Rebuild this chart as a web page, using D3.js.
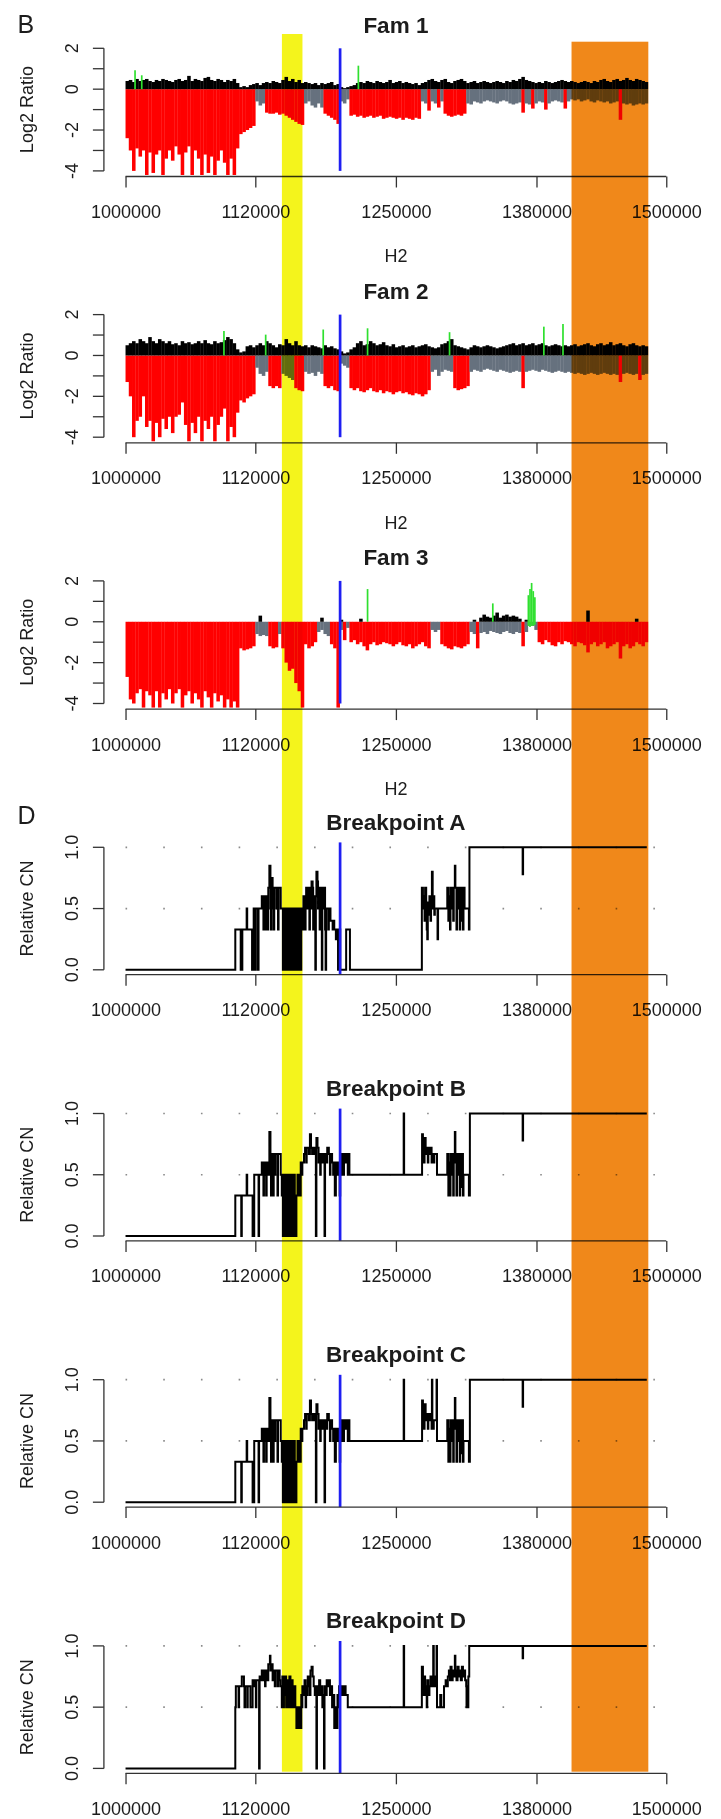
<!DOCTYPE html>
<html><head><meta charset="utf-8">
<script src="https://cdn.jsdelivr.net/npm/d3@7"></script>
<style>
body{margin:0;background:#fff}
svg{display:block}
text{font-family:"Liberation Sans",Arial,Helvetica,sans-serif;fill:#1c1c1c}
</style>
</head><body>
<svg id="chart" width="721" height="1819"></svg>
<script>
// ---------------- DATA ----------------
const xTicks = [1000000, 1120000, 1250000, 1380000, 1500000];
const famYTicks = [2, 1, 0, -1, -2, -3, -4];
const famYLabels = [2, 0, -2, -4];
const bpYTicks = [0, 0.5, 1];
const famTitles = ["Fam 1", "Fam 2", "Fam 3"];
const bpTitles = ["Breakpoint A", "Breakpoint B", "Breakpoint C", "Breakpoint D"];
const xLabel = "H2";

// probes binned every 3 kb starting at 1000 kb (log2 ratio envelope per bin)
const binStartKb = 1000, binKb = 3;

const fam1Lower = [
-2.4,-3.0,-4.0,-2.9,-3.3,-3.0,-4.2,-3.1,-4.1,-3.2,-3.0,-4.2,-3.4,-3.0,-3.5,-2.8,-3.2,-4.2,-3.1,-2.8,
-4.2,-3.0,-3.4,-4.2,-3.2,-4.1,-3.3,-4.2,-3.5,-3.0,-3.6,-4.2,-3.4,-4.2,-2.9,
-2.2,-2.1,-2.0,-1.9,-1.8,
-0.6,-0.8,-0.7,
-1.15,-1.2,-1.2,-1.15,-1.25,
-1.2,-1.3,-1.4,-1.5,-1.6,-1.7,-1.75,
-0.7,-0.6,-0.8,-0.9,-0.7,-0.9,
-1.2,-1.3,-1.4,-1.5,-1.7,
-0.6,-0.7,-0.5,
-1.3,-1.25,-1.35,-1.3,-1.4,-1.35,-1.3,-1.4,-1.35,-1.3,-1.45,-1.4,-1.35,-1.4,-1.45,-1.4,-1.5,-1.4,-1.45,-1.5,-1.4,-1.45,
-0.6,-0.7,-1.05,-0.6,-0.7,-0.9,-0.6,
-1.2,-1.3,-1.35,-1.3,-1.25,-1.3,-1.2,
-0.7,-0.75,-0.6,-0.65,-0.7,-0.6,-0.55,-0.6,-0.65,-0.7,-0.6,-0.55,-0.6,-0.7,-0.75,-0.7,-0.65,-1.15,-0.7,-0.75,
-0.95,-0.7,-0.6,-0.65,-1.0,-0.7,-0.6,-0.55,-0.6,-0.65,-0.95,-0.6,-0.5,-0.55,-0.5,-0.6,-0.55,-0.5,-0.6,-0.65,
-0.55,-0.6,-0.65,-0.6,-0.7,-0.65,-0.6,-1.5,-0.7,-0.75,-0.7,-0.8,-0.75,-0.7,-0.75,-0.7
];
const fam1Upper = [
.4,.45,.35,.5,.4,.45,.5,.4,.35,.45,.4,.5,.45,.4,.35,.45,.5,.4,.45,.65,.4,.5,.45,.4,.55,.6,.45,.4,.5,.45,.35,.45,.4,.5,.3,
.1,.15,.1,.2,
.25,.3,.2,.3,.35,.3,.4,.35,.3,.45,
.6,.4,.5,.35,.45,.3,.35,
.3,.25,.3,.2,.3,.25,.3,.35,.2,.25,
.1,.05,.1,.15,.2,
.3,.35,.3,.4,.35,.3,.4,.35,.3,.35,.45,.3,.35,.4,.3,.35,.3,.25,.3,.2,
.3,.35,.45,.5,.4,.35,.45,.5,.35,.3,.4,.45,.5,.4,.3,.35,.4,.3,.35,.4,
.35,.3,.35,.4,.35,.3,.4,.35,.45,.4,.5,.6,.45,.4,.35,.3,.35,.3,.4,.35,
.3,.35,.4,.45,.4,.35,.4,.35,.3,.35,.4,.35,.3,.4,.35,.45,.5,.4,.35,.45,
.5,.4,.45,.55,.45,.4,.5,.45,.4,.35
];
const fam1RedRuns = [[1000,1120],[1129,1165],[1183,1198],[1207,1273],[1279,1282],[1288,1291],[1294,1315],[1366,1369],[1375,1378],[1387,1390],[1405,1408],[1456,1459]];
const fam1Green = [[1008.8,0.92,0],[1015,0.68,0],[1215.3,1.15,0]];

const fam2Lower = [
-1.3,-2.0,-4.0,-3.2,-3.0,-2.0,-3.5,-3.2,-4.2,-3.3,-4.0,-3.1,-3.6,-3.0,-3.8,-3.0,-2.9,-2.3,-3.4,-4.2,
-3.3,-3.8,-3.0,-4.2,-3.2,-3.6,-3.0,-4.2,-3.4,-3.0,-2.6,-4.2,-3.5,-4.0,-2.8,
-2.2,-2.3,-2.1,-2.0,-1.9,
-0.6,-0.9,-1.0,-0.8,
-1.5,-1.6,-1.5,-1.6,
-0.9,-1.0,-1.1,-1.2,
-1.6,-1.7,-1.75,
-0.8,-0.9,-0.85,-1.0,-0.8,-0.9,
-1.5,-1.6,-1.5,-1.7,-1.75,
-0.4,-0.5,-0.6,
-1.6,-1.7,-1.6,-1.75,-1.8,-1.7,-1.6,-1.75,-1.8,-1.7,-1.85,-1.75,-1.8,-1.9,-1.8,-1.75,-1.85,-1.8,-1.9,-1.95,-1.85,-1.9,-2.0,-1.9,-1.7,
-0.8,-0.7,-1.0,-0.8,-0.7,-0.75,-0.8,
-1.6,-1.7,-1.65,-1.6,-1.5,
-0.8,-0.7,-0.75,-0.8,-0.7,-0.65,-0.7,-0.75,-0.8,-0.7,-0.75,-0.8,-0.85,-0.8,-0.75,-0.8,-1.6,-0.8,-0.75,-0.7,
-0.75,-0.8,-0.7,-0.75,-0.8,-0.85,-0.8,-0.75,-0.8,-0.85,-0.8,-0.85,-0.9,-0.85,-0.9,-0.95,-0.9,-0.85,-0.9,-0.95,
-0.9,-0.85,-0.9,-0.95,-0.9,-0.95,-1.3,-0.9,-0.85,-0.9,-0.95,-0.9,-1.2,-0.95,-0.9
];
const fam2Upper = [
.5,.6,.7,.6,.8,.7,.6,.9,.7,.6,.8,.7,.6,.7,.55,.6,.5,.7,.6,.65,.55,.6,.7,.6,.75,.6,.55,.7,.6,.65,.75,.9,.8,.6,.3,
.15,.2,.45,.5,.4,
.5,.6,.5,.7,.6,.5,.4,.55,.5,
.8,.6,.5,.7,.5,.45,.5,
.4,.5,.45,.4,.35,.5,.4,.45,.35,.3,.2,
.1,.15,.3,.4,
.6,.7,.5,.55,.7,.6,.5,.55,.65,.5,.45,.55,.4,.45,.5,.4,.45,.5,.4,.45,
.5,.55,.45,.4,.35,.4,.55,.6,.7,.8,.5,.45,.4,.35,.3,.4,.5,.45,.4,.45,
.5,.45,.4,.35,.4,.45,.5,.55,.6,.5,.55,.6,.5,.55,.6,.5,.55,.6,.5,.45,
.5,.55,.5,.45,.5,.45,.5,.55,.45,.5,.55,.6,.5,.45,.55,.6,.5,.55,.65,.5,
.55,.6,.5,.45,.55,.6,.5,.45,.5,.45
];
const fam2RedRuns = [[1000,1120],[1132,1144],[1156,1165],[1183,1198],[1207,1282],[1303,1318],[1366,1369],[1456,1459],[1474,1477]];
const fam2Green = [[1091,1.2,0],[1129.6,1.02,0],[1182.8,1.27,0],[1223.8,1.33,0],[1299.6,1.14,0],[1386.8,1.41,0],[1404.5,1.54,0]];

const fam3Lower = [
-2.7,-3.8,-4.0,-3.5,-3.3,-4.2,-3.4,-3.6,-4.2,-3.4,-4.2,-3.5,-3.8,-3.3,-4.0,-3.5,-3.3,-4.2,-3.6,-3.4,
-4.0,-3.5,-3.8,-4.2,-3.4,-3.7,-4.2,-3.5,-3.9,-3.6,-4.2,-3.8,-4.2,-3.9,-4.2,
-1.3,-1.4,-1.35,-1.3,-1.2,
-0.6,-0.7,-0.65,-0.7,
-1.2,-1.3,-1.25,
-0.6,
-1.3,-2.0,-2.4,-2.3,-3.0,-3.4,-4.2,
-1.1,-1.3,-1.2,-1.0,
-0.5,-0.4,-0.6,-0.7,
-1.1,-1.3,-4.2,
-0.4,-0.9,-0.3,
-1.0,-0.9,-1.1,-1.0,-1.2,-1.4,-1.1,-1.0,-1.15,-1.1,-1.0,-1.05,-1.1,-1.2,-1.1,-1.0,-1.15,-1.2,-1.1,-1.3,-1.2,-1.1,-1.0,-1.2,-1.3,
-0.4,-0.5,-0.4,
-1.1,-1.2,-1.3,-1.35,-1.2,-1.25,-1.3,-1.2,-1.1,
-0.5,-0.6,-1.3,-0.55,-0.5,-0.6,-0.45,-0.5,-0.55,-0.6,-0.5,-0.45,-0.55,-0.6,-0.5,-0.55,-1.2,-0.5,-0.2,-0.2,-0.4,
-1.0,-1.1,-0.9,-1.0,-1.15,-1.2,-1.0,-1.1,-0.95,-1.0,-1.1,-1.2,-1.0,-1.05,-1.15,-1.5,-1.1,-1.0,-1.2,-1.1,
-1.0,-1.3,-1.2,-1.1,-1.0,-1.8,-1.2,-1.1,-1.3,-1.2,-1.0,-1.1,-1.2,-1.0
];
const fam3Upper = [
0,0,0,0,0,0,0,0,0,0,0,0,0,0,0,0,0,0,0,0,0,0,0,0,0,0,0,0,0,0,0,0,0,0,0,0,0,0,0,0,0,
.3,
0,0,0,0,0,0,0,0,0,0,0,0,0,0,0,0,0,0,
.2,
0,0,0,0,0,
.1,
0,0,0,0,0,
.15,
0,0,0,0,0,0,0,0,0,0,0,0,0,0,0,0,0,0,0,0,0,0,0,0,0,0,0,0,0,0,0,0,0,0,
.1,0,.2,.35,.25,.2,.3,.45,.2,.3,.35,.25,.3,.25,.15,0,.1,
0,0,0,0,0,0,0,0,0,0,0,0,0,0,0,0,0,0,
.55,
0,0,0,0,0,0,0,0,0,0,0,0,0,0,
.15,
0,0,0
];
const fam3RedRuns = [[1000,1120],[1132,1141],[1144,1177],[1189,1198],[1201,1204],[1207,1282],[1291,1318],[1324,1327],[1366,1369],[1381,1484]];
const fam3Green = [[1223.8,1.6,0],[1339.6,0.9,0],[1372.5,1.3,-0.2],[1374,1.6,-0.25],[1375.5,1.9,-0.2],[1377,1.5,-0.2],[1378.5,1.2,-0.15]];

// relative copy number, step series [kb, value]
const bpA = [
[1000,0],[1101,0],[1101.5,0.33],[1106,0.33],[1106.5,0],[1107.5,0],[1108,0.33],[1111.5,0.33],[1112,0.5],[1112.5,0.33],[1116.5,0.33],[1117,0],[1118,0],[1118.5,0.5],[1119.5,0],[1120.5,0.5],[1122,0.5],[1122.5,0],[1123,0.5],[1125.5,0.5],[1126,0.6],[1127,0.6],[1127.5,0.33],[1128,0.6],[1129,0.5],[1129.5,0.33],[1130,0.6],[1131,0.5],[1131.5,0.33],[1132,0.67],[1133,0.85],[1134,0.5],[1134.5,0.33],[1135,0.75],[1136,0.5],[1136.5,0.67],[1137,0.33],[1137.5,0.67],[1139,0.67],[1139.5,0.5],[1140,0.67],[1141,0.33],[1141.5,0.67],[1143,0.67],[1143.5,0.5],[1145,0.5],[1145.5,0],
[1146,0.5],[1146.5,0],[1147,0.5],[1147.5,0],[1148,0.33],[1148.5,0],[1149,0.5],[1149.5,0],[1150,0.5],[1150.5,0],[1151,0.33],[1151.5,0],[1152,0.5],[1152.5,0],[1153,0.5],[1153.5,0],[1154,0.5],[1154.5,0.33],[1155,0],[1155.5,0.5],[1156,0],[1156.5,0.4],[1157,0],[1157.5,0.5],[1158,0],[1158.5,0.33],[1159,0],[1159.5,0.5],[1160,0],[1160.5,0.33],[1161,0],[1161.5,0.5],[1162,0],[1162.5,0.4],[1163,0.33],
[1163.5,0.5],[1164,0.33],[1164.5,0.6],[1165,0.4],[1165.5,0.5],[1166,0.33],[1166.5,0.6],[1167,0.67],[1168,0.5],[1168.5,0.67],[1169.5,0.67],[1170,0.33],[1170.5,0.67],[1171.5,0.5],[1172,0.72],[1173,0.67],[1173.5,0.33],[1174,0.6],[1175.5,0],[1176,0.6],[1176.5,0.8],[1177.5,0.72],[1178,0.5],[1178.5,0.67],[1179.5,0.33],[1180,0.67],[1181.5,0],[1182,0.67],[1183,0.5],[1183.5,0.67],[1184.5,0.33],[1185,0],[1185.5,0.5],[1187,0.5],[1187.5,0.33],[1188,0.5],[1189.5,0.4],[1191.5,0.33],[1192,0.4],[1193,0.33],[1194.5,0.25],[1195,0.33],[1196.5,0],[1197,0.3],[1197.5,0],[1198,0.33],[1198.5,0],[1203.5,0],[1204,0.33],[1207,0.33],[1207.5,0],
[1273.5,0],[1274,0.67],[1275,0.5],[1275.5,0.6],[1276.5,0.4],[1277,0.67],[1278,0.5],[1278.5,0.33],[1279,0.25],[1279.5,0.55],[1280.5,0.45],[1281,0.6],[1282,0.4],[1282.5,0.6],[1283.3,0.8],[1284,0.5],[1284.5,0.6],[1285.5,0.45],[1286,0.5],[1288.5,0.25],[1289,0.5],[1297,0.5],[1297.5,0.67],[1298.5,0.4],[1299,0.6],[1300,0.33],[1300.5,0.67],[1301.5,0.5],[1302,0.67],[1303,0.4],[1303.5,0.67],[1304.5,0.85],[1305,0.67],[1306,0.33],[1306.5,0.67],[1307.5,0.5],[1308,0.67],[1309,0.33],[1309.5,0.67],[1310.5,0.4],[1311,0.67],[1312,0.33],[1312.5,0.67],[1313.5,0.5],[1317,0.5],[1317.5,0.33],[1318,1.0],[1367,1.0],[1367.2,0.78],[1367.6,1.0],[1482,1.0]
];
const bpB = [
[1000,0],[1101,0],[1101.5,0.33],[1106.5,0.33],[1107,0],[1107.5,0.33],[1111.5,0.33],[1112,0.5],[1112.5,0.33],[1117,0.33],[1117.5,0],[1118.5,0],[1119,0.5],[1122.5,0.5],[1123,0],[1123.5,0.5],[1125.5,0.5],[1126,0.6],[1127,0.6],[1127.5,0.33],[1128,0.6],[1129.5,0.5],[1130,0.33],[1130.5,0.6],[1132,0.5],[1133,0.85],[1134,0.5],[1134.5,0.33],[1135,0.67],[1136,0.5],[1136.5,0.33],[1137,0.67],[1138,0.5],[1138.5,0.67],[1140,0.67],[1140.5,0.33],[1141,0.67],[1143,0.67],[1143.5,0.5],[1144.5,0.33],[1145,0.5],
[1145.5,0],[1146,0.5],[1146.5,0],[1147,0.5],[1147.5,0],[1148,0.5],[1148.5,0],[1149,0.5],[1149.5,0],[1150,0.4],[1150.5,0],[1151,0.5],[1151.5,0],[1152,0.5],[1152.5,0],[1153,0.5],[1153.5,0],[1154,0.33],[1154.5,0],[1155,0.5],[1155.5,0],[1156,0.5],[1156.5,0],[1157,0.33],[1157.5,0],[1158,0.33],
[1159,0.5],[1159.5,0.33],[1160.5,0.5],[1161,0.33],[1162,0.6],[1163,0.5],[1163.5,0.6],[1165,0.67],[1166,0.72],[1167,0.6],[1167.5,0.72],[1169.5,0.67],[1170.5,0.83],[1171.5,0.72],[1172.5,0.67],[1173.5,0.72],[1175,0.67],[1176,0],[1176.5,0.8],[1177.5,0.72],[1178.5,0.6],[1179,0.67],[1180,0.5],[1180.5,0.67],[1182,0.6],[1182.5,0.67],[1184,0],[1184.5,0.67],[1186,0.6],[1186.5,0.72],[1188,0.67],[1189,0.5],[1189.5,0.67],[1191,0.6],[1192,0.5],[1193,0.6],[1193.5,0.33],[1194.5,0.5],[1195,0.6],[1196,0.5],[1197,0.6],[1198,0.33],[1198.5,0.6],[1199.5,0.5],[1200,0.67],[1201.5,0.5],[1202,0.67],[1203.5,0.6],[1204,0.67],[1205.5,0.5],[1206,0.67],[1207,0.5],
[1257,0.5],[1257.2,1.0],[1257.6,0.5],[1274,0.5],[1274.2,0.83],[1275,0.72],[1276,0.6],[1276.5,0.8],[1277.5,0.67],[1278,0.72],[1279.5,0.6],[1280,0.72],[1281,0.67],[1282,0.72],[1283,0.6],[1283.5,0.67],[1285,0.6],[1285.5,0.67],[1287.5,0.67],[1288,0.5],[1297,0.5],[1297.5,0.67],[1298.5,0.33],[1299,0.6],[1300,0.33],[1300.5,0.67],[1301.5,0.5],[1302,0.67],[1303,0.33],[1303.5,0.6],[1304.5,0.85],[1305,0.67],[1306,0.33],[1306.5,0.67],[1307.5,0.5],[1308,0.67],[1309,0.33],[1309.5,0.67],[1310.5,0.4],[1311,0.67],[1312,0.33],[1312.5,0.5],[1317,0.5],[1317.5,0.33],[1318.4,1.0],[1367,1.0],[1367.2,0.78],[1367.6,1.0],[1482,1.0]
];
const bpC = [
[1000,0],[1101,0],[1101.5,0.33],[1106.5,0.33],[1107,0],[1107.5,0.33],[1111.5,0.33],[1112,0.5],[1112.5,0.33],[1117,0.33],[1117.5,0],[1118.5,0],[1119,0.5],[1122.5,0.5],[1123,0],[1123.5,0.5],[1125.5,0.5],[1126,0.6],[1127,0.6],[1127.5,0.33],[1128,0.6],[1129.5,0.5],[1130,0.33],[1130.5,0.6],[1132,0.5],[1133,0.85],[1134,0.5],[1134.5,0.33],[1135,0.67],[1136,0.5],[1136.5,0.33],[1137,0.67],[1138,0.5],[1138.5,0.67],[1140,0.67],[1140.5,0.33],[1141,0.67],[1143,0.67],[1143.5,0.5],[1144.5,0.33],[1145,0.5],
[1145.5,0],[1146,0.5],[1146.5,0],[1147,0.5],[1147.5,0],[1148,0.5],[1148.5,0],[1149,0.5],[1149.5,0],[1150,0.4],[1150.5,0],[1151,0.5],[1151.5,0],[1152,0.5],[1152.5,0],[1153,0.5],[1153.5,0],[1154,0.33],[1154.5,0],[1155,0.5],[1155.5,0],[1156,0.5],[1156.5,0],[1157,0.33],[1157.5,0],[1158,0.33],
[1159,0.5],[1159.5,0.33],[1160.5,0.5],[1161,0.33],[1162,0.6],[1163,0.5],[1163.5,0.6],[1165,0.67],[1166,0.72],[1167,0.6],[1167.5,0.72],[1169.5,0.67],[1170.5,0.83],[1171.5,0.72],[1172.5,0.67],[1173.5,0.72],[1175,0.67],[1176,0],[1176.5,0.8],[1177.5,0.72],[1178.5,0.6],[1179,0.67],[1180,0.5],[1180.5,0.67],[1182,0.6],[1182.5,0.67],[1184,0],[1184.5,0.67],[1186,0.6],[1186.5,0.72],[1188,0.67],[1189,0.5],[1189.5,0.67],[1191,0.6],[1192,0.5],[1193,0.6],[1193.5,0.33],[1194.5,0.5],[1195,0.6],[1196,0.5],[1197,0.6],[1198,0.33],[1198.5,0.6],[1199.5,0.5],[1200,0.67],[1201.5,0.5],[1202,0.67],[1203.5,0.6],[1204,0.67],[1205.5,0.5],[1206,0.67],[1207,0.5],
[1257,0.5],[1257.2,1.0],[1257.6,0.5],[1274,0.5],[1274.2,0.83],[1275,0.72],[1276,0.6],[1276.5,0.8],[1277.5,0.67],[1278,0.72],[1279.5,0.6],[1280,0.72],[1281,0.67],[1282,0.72],[1283,0.6],[1283.3,1.0],[1283.7,0.6],[1285,0.67],[1287.4,0.67],[1287.6,1.0],[1288,0.5],[1297,0.5],[1297.5,0.67],[1298.5,0.33],[1299,0.6],[1300,0.33],[1300.5,0.67],[1301.5,0.5],[1302,0.67],[1303,0.33],[1303.5,0.6],[1304.5,0.85],[1305,0.67],[1306,0.33],[1306.5,0.67],[1307.5,0.5],[1308,0.67],[1309,0.33],[1309.5,0.67],[1310.5,0.4],[1311,0.67],[1312,0.33],[1312.5,0.5],[1317,0.5],[1317.5,0.33],[1318.4,1.0],[1367,1.0],[1367.2,0.78],[1367.6,1.0],[1482,1.0]
];
const bpD = [
[1000,0],[1101.2,0],[1101.5,0.5],[1102,0.67],[1104,0.67],[1104.5,0.5],[1105,0.67],[1107,0.67],[1107.5,0.75],[1109,0.75],[1109.5,0.67],[1110,0.5],[1110.5,0.67],[1112,0.67],[1112.5,0.5],[1113,0.67],[1115,0.67],[1115.5,0.5],[1117,0.5],[1117.5,0.72],[1118.5,0.72],[1119,0.67],[1119.5,0.72],[1120.5,0.5],[1121,0.72],[1123,0.72],[1123.5,0],[1124,0.75],[1125,0.72],[1126,0.8],[1127,0.72],[1128,0.8],[1129,0.67],[1129.5,0.8],[1131,0.72],[1132,0.85],[1133.5,0.92],[1134,0.8],[1135,0.85],[1136,0.72],[1137,0.8],[1138,0.67],[1138.5,0.8],[1140,0.8],[1140.5,0.67],[1141,0.8],[1142.5,0.72],[1143,0.67],[1144.5,0.5],[1145,0.75],[1146,0.5],[1146.5,0.75],[1147,0.6],[1147.5,0.75],[1148.5,0.5],[1149,0.72],[1150,0.5],[1150.5,0.67],[1151,0.5],[1151.5,0.75],[1152.5,0.6],[1153,0.5],[1153.5,0.72],[1154.5,0.5],[1155,0.6],[1155.5,0.5],[1156,0.67],[1157,0.5],[1158,0.33],[1159,0.5],[1159.5,0.33],[1160.5,0.5],[1161,0.33],[1162.5,0.6],[1163,0.5],[1163.5,0.67],[1165,0.6],[1165.5,0.72],[1166.5,0.5],[1167,0.67],[1168,0.6],[1168.5,0.75],[1169.5,0.67],[1170.5,0.6],[1171,0.8],[1172,0.83],[1173,0.75],[1174,0.67],[1175,0.6],[1175.5,0.67],[1176.5,0],[1177,0.67],[1178,0.6],[1179,0.72],[1180,0.6],[1181,0.67],[1182,0.5],[1183,0.6],[1183.5,0],[1184,0.67],[1185,0.6],[1186,0.72],[1187,0.67],[1188,0.72],[1189,0.6],[1190,0.67],[1191,0.5],[1192,0.6],[1193,0.33],[1194,0.5],[1195,0.33],[1196,0.6],[1197,0.5],[1197.5,0.67],[1199,0.6],[1200,0.67],[1201,0.6],[1202,0.67],[1203.5,0.6],[1205.5,0.5],
[1257,0.5],[1257.2,1.0],[1257.6,0.5],[1273.7,0.5],[1274,0.83],[1275,0.6],[1276,0.75],[1277,0.67],[1277.5,0.6],[1278.5,0.5],[1279,0.72],[1280,0.6],[1281,0.67],[1282,0.75],[1283,0.67],[1284.5,1.0],[1285,0.67],[1286,0.75],[1287,0.67],[1287.6,1.0],[1288,0.5],[1290.5,0.5],[1291,0.6],[1292,0.5],[1294.5,0.67],[1296,0.72],[1297,0.67],[1298,0.75],[1299,0.8],[1300,0.72],[1300.5,0.83],[1301.5,0.72],[1302.5,0.8],[1303.5,0.75],[1304.5,0.92],[1305,0.8],[1306,0.72],[1307,0.83],[1308,0.75],[1309,0.8],[1310,0.72],[1311,0.83],[1312,0.75],[1313,0.8],[1314,0.72],[1315,0.67],[1315.3,0.5],[1317,0.75],[1317.8,1.0],[1367,1.0],[1367.2,0.9],[1367.6,1.0],[1482,1.0]
];

const breakpointKb = 1198.4;            // blue marker
const yellowBandKb = [1144.6, 1163.6];  // highlighted regions
const orangeBandKb = [1412.4, 1483.4];

// ---------------- DRAWING ----------------
const RED = "#ff0000", GREY = "#66717e", BLACK = "#000", GREEN = "#2fe02f", BLUE = "#1f1ff2";
const svg = d3.select("#chart");
svg.append("rect").attr("width", 721).attr("height", 1819).attr("fill", "#fff");
const x = d3.scaleLinear().domain([980000, 1520000]).range([103.9, 687.9]);
const bp = k => k * 1000;
const xMid = (x.range()[0] + x.range()[1]) / 2;

function xAxis(g, axisY, withTitle, titleY) {
  const ax = g.append("g").attr("transform", `translate(0,${axisY})`)
    .call(d3.axisBottom(x).tickValues(xTicks).tickSize(11).tickFormat(d3.format("d")));
  ax.select(".domain").remove();
  ax.selectAll(".tick line").attr("stroke", "#333").attr("stroke-width", 1.3);
  ax.selectAll(".tick text").attr("y", 41.5).attr("dy", null)
    .attr("font-size", 18).attr("font-family", '"Liberation Sans",Arial,sans-serif').attr("fill", "#1c1c1c");
  ax.append("line").attr("x1", x(xTicks[0])).attr("x2", x(xTicks[xTicks.length - 1]))
    .attr("stroke", "#333").attr("stroke-width", 1.3);
  if (withTitle) {
    g.append("text").attr("x", xMid).attr("y", titleY).attr("text-anchor", "middle")
      .attr("font-size", 18).text(xLabel);
  }
}

function yAxis(g, y, ticks, labels, fmt, titleText) {
  const yr = d3.extent(ticks);
  g.append("line").attr("x1", 103.9).attr("x2", 103.9).attr("y1", y(yr[1])).attr("y2", y(yr[0]))
    .attr("stroke", "#333").attr("stroke-width", 1.3);
  g.selectAll(null).data(ticks).join("line")
    .attr("x1", 103.9).attr("x2", 92.9).attr("y1", d => y(d)).attr("y2", d => y(d))
    .attr("stroke", "#333").attr("stroke-width", 1.3);
  g.selectAll(null).data(labels).join("text")
    .attr("transform", d => `translate(77.8,${y(d)}) rotate(-90)`)
    .attr("text-anchor", "middle").attr("font-size", 18).text(fmt);
  const yc = (y.range()[0] + y.range()[1]) / 2;
  g.append("text").attr("transform", `translate(33,${yc}) rotate(-90)`)
    .attr("text-anchor", "middle").attr("font-size", 18).text(titleText);
}

const famData = [
  {lower: fam1Lower, upper: fam1Upper, red: fam1RedRuns, green: fam1Green},
  {lower: fam2Lower, upper: fam2Upper, red: fam2RedRuns, green: fam2Green},
  {lower: fam3Lower, upper: fam3Upper, red: fam3RedRuns, green: fam3Green}
];
const binX0 = i => x(bp(binStartKb + i * binKb));
const binX1 = i => x(bp(binStartKb + (i + 1) * binKb));

famData.forEach((p, k) => {
  const off = 266.3 * k;
  const y = d3.scaleLinear().domain([-4.24, 2.24]).range([175.8 + off, 43.4 + off]);
  const g = svg.append("g");
  const isRed = c => p.red.some(r => c >= r[0] && c < r[1]);
  g.selectAll(null).data(p.lower).join("rect")
    .attr("x", (v, i) => binX0(i)).attr("width", (v, i) => binX1(i) - binX0(i) + 0.3)
    .attr("y", y(0)).attr("height", v => Math.max(0, y(v) - y(0)))
    .attr("fill", (v, i) => isRed(binStartKb + i * binKb + binKb / 2) ? RED : GREY);
  g.selectAll(null).data(p.upper).join("rect")
    .attr("x", (v, i) => binX0(i)).attr("width", (v, i) => binX1(i) - binX0(i) + 0.3)
    .attr("y", v => y(v)).attr("height", v => Math.max(0, y(0) - y(v)))
    .attr("fill", BLACK);
  g.selectAll(null).data(p.green).join("line")
    .attr("x1", d => x(bp(d[0]))).attr("x2", d => x(bp(d[0])))
    .attr("y1", d => y(d[2])).attr("y2", d => y(d[1]))
    .attr("stroke", GREEN).attr("stroke-width", 1.7);
  g.append("line").attr("x1", x(bp(breakpointKb))).attr("x2", x(bp(breakpointKb)))
    .attr("y1", y(2)).attr("y2", y(-4)).attr("stroke", BLUE).attr("stroke-width", 2.7);
  yAxis(g, y, famYTicks, famYLabels, d => String(d), "Log2 Ratio");
  xAxis(g, 176.5 + off, true, 262.4 + off);
  g.append("text").attr("x", xMid).attr("y", 32.5 + off).attr("text-anchor", "middle")
    .attr("font-size", 22.5).attr("font-weight", "bold").text(famTitles[k]);
});

const bpData = [bpA, bpB, bpC, bpD];
const stepLine = d3.line().curve(d3.curveStepAfter);
bpData.forEach((pts, j) => {
  const off = 266.2 * j;
  const y = d3.scaleLinear().domain([-0.04, 1.04]).range([974.7 + off, 842.4 + off]);
  const g = svg.append("g");
  g.selectAll(null).data([0.5, 1]).join("line")
    .attr("x1", x(xTicks[0])).attr("x2", x(xTicks[xTicks.length - 1]))
    .attr("y1", d => y(d)).attr("y2", d => y(d))
    .attr("stroke", "#8a8a8a").attr("stroke-width", 1.7).attr("stroke-dasharray", "1.6 36.1");
  g.append("path").attr("d", stepLine.x(d => x(bp(d[0]))).y(d => y(d[1]))(pts))
    .attr("fill", "none").attr("stroke", BLACK).attr("stroke-width", 2);
  g.append("line").attr("x1", x(bp(breakpointKb))).attr("x2", x(bp(breakpointKb)))
    .attr("y1", y(1.04)).attr("y2", y(-0.04)).attr("stroke", BLUE).attr("stroke-width", 2.7);
  yAxis(g, y, bpYTicks, bpYTicks, d3.format(".1f"), "Relative CN");
  xAxis(g, 974.7 + off, false, 0);
  g.append("text").attr("x", xMid).attr("y", 829.5 + off).attr("text-anchor", "middle")
    .attr("font-size", 22.5).attr("font-weight", "bold").text(bpTitles[j]);
});

// panel letters
svg.append("text").attr("x", 17.5).attr("y", 32.7).attr("font-size", 25).text("B");
svg.append("text").attr("x", 17.5).attr("y", 824).attr("font-size", 25).text("D");

// highlight bands spanning all panels (multiplied over the figure)
svg.append("rect").attr("x", x(bp(yellowBandKb[0]))).attr("width", x(bp(yellowBandKb[1])) - x(bp(yellowBandKb[0])))
  .attr("y", 34).attr("height", 1771.7 - 34).attr("fill", "#f4f41c").style("mix-blend-mode", "multiply");
svg.append("rect").attr("x", x(bp(orangeBandKb[0]))).attr("width", x(bp(orangeBandKb[1])) - x(bp(orangeBandKb[0])))
  .attr("y", 41.7).attr("height", 1771.7 - 41.7).attr("fill", "#f0881a").style("mix-blend-mode", "multiply");
</script>
</body></html>
